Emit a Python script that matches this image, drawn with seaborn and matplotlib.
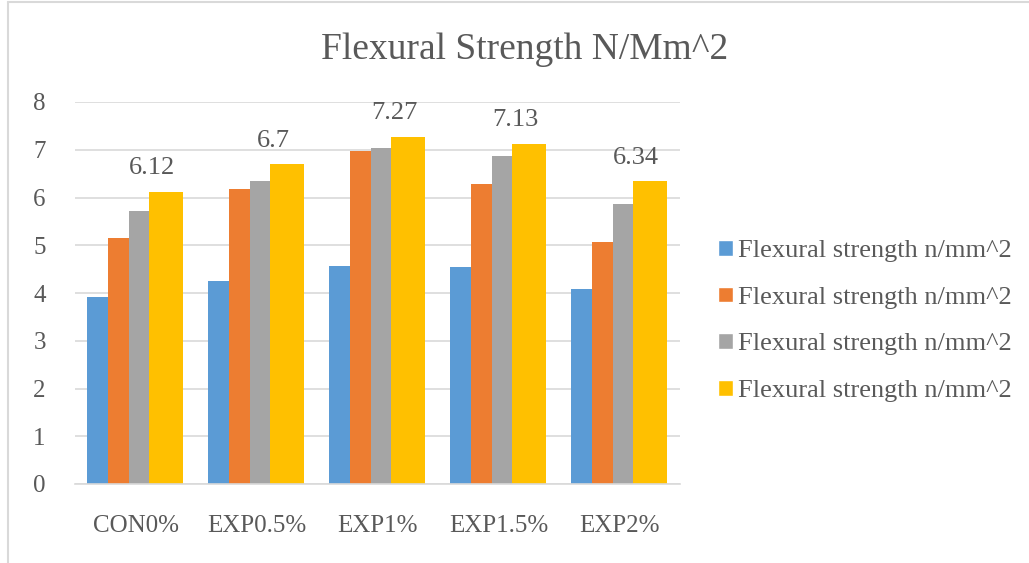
import pandas as pd
import matplotlib

matplotlib.use("Agg")
import matplotlib.pyplot as plt
import seaborn as sns
from matplotlib.lines import Line2D

# data
categories = ["CON0%", "EXP0.5%", "EXP1%", "EXP1.5%", "EXP2%"]
series_names = ["s1", "s2", "s3", "s4"]
legend_label = "Flexural strength n/mm^2"
s1_values = [3.91, 4.25, 4.57, 4.55, 4.09]
s2_values = [5.16, 6.18, 6.98, 6.29, 5.07]
s3_values = [5.72, 6.35, 7.03, 6.87, 5.86]
s4_values = [6.12, 6.70, 7.27, 7.13, 6.34]
y_ticks = [0, 1, 2, 3, 4, 5, 6, 7, 8]
title = "Flexural Strength N/Mm^2"

colors = ["#5B9BD5", "#ED7D31", "#A5A5A5", "#FFC000"]
text_color = "#595959"
grid_color = "#D9D9D9"

rows = []
for name, vals in zip(series_names, [s1_values, s2_values, s3_values, s4_values]):
    for cat, v in zip(categories, vals):
        rows.append({"Category": cat, "Series": name, "Value": v})
df = pd.DataFrame(rows)

sns.set_theme(style="white")
plt.rcParams["font.family"] = ["Liberation Serif", "DejaVu Serif"]

fig = plt.figure(figsize=(10.29, 5.63), dpi=100)
ax = fig.add_axes([75 / 1029, 79 / 563, 605 / 1029, 382 / 563])

sns.barplot(
    data=df,
    x="Category",
    y="Value",
    hue="Series",
    order=categories,
    hue_order=series_names,
    palette=colors,
    width=0.8,
    saturation=1,
    ax=ax,
    legend=True,
)

# excel layout: three narrow bars and a wider last one
bar_widths = [0.172, 0.172, 0.168, 0.28]
start = -0.40
for i, cont in enumerate(ax.containers):
    left = start + sum(bar_widths[:i])
    for j, patch in enumerate(cont.patches):
        patch.set_x(j + left)
        patch.set_width(bar_widths[i])
        patch.set_linewidth(0)

# value labels over the last series
for j, v in enumerate(s4_values):
    p = ax.containers[3].patches[j]
    ax.annotate(
        f"{v:g}",
        xy=(p.get_x() + p.get_width() / 2, v),
        xytext=(-10, 9),
        textcoords="offset points",
        ha="center",
        va="bottom",
        fontsize=19,
        color=text_color,
    )

ax.set_xlim(-0.5, 4.5)
ax.set_ylim(0, 8)
ax.set_yticks(y_ticks)
ax.yaxis.grid(True, color=grid_color, linewidth=1.2)
ax.set_axisbelow(True)
for side in ["left", "right", "top"]:
    ax.spines[side].set_visible(False)
ax.spines["bottom"].set_color(grid_color)
ax.spines["bottom"].set_linewidth(1.2)
ax.tick_params(axis="y", length=0, pad=21, labelsize=18, labelcolor=text_color)
ax.tick_params(axis="x", length=0, pad=22, labelsize=18, labelcolor=text_color)
ax.set_xlabel("")
ax.set_ylabel("")

handles, _ = ax.get_legend_handles_labels()
ax.legend(
    handles,
    [legend_label] * 4,
    loc="center left",
    bbox_to_anchor=(718 / 1029, 1 - 321 / 563),
    bbox_transform=fig.transFigure,
    frameon=False,
    fontsize=19,
    labelcolor=text_color,
    handlelength=0.55,
    handleheight=0.55,
    handletextpad=0.2,
    labelspacing=0.92,
    borderpad=0,
    borderaxespad=0,
)

fig.text(0.51, 1 - 50 / 563, title, ha="center", va="center", fontsize=27, color=text_color)

# chart border (top and left visible in the crop)
fig.add_artist(Line2D([8 / 1029, 1], [1 - 2 / 563, 1 - 2 / 563], color=grid_color, linewidth=1.5))
fig.add_artist(Line2D([8 / 1029, 8 / 1029], [1 - 2 / 563, 0], color=grid_color, linewidth=1.5))

plt.savefig("out.png", dpi=100)
plt.close()
